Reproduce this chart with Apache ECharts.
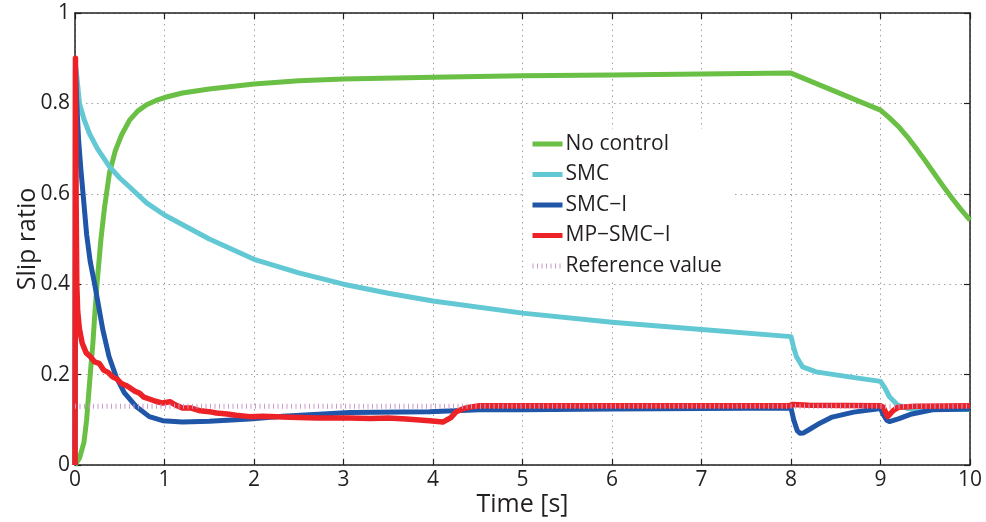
<!DOCTYPE html>
<html>
<head>
<meta charset="utf-8">
<script src="https://cdn.jsdelivr.net/npm/echarts@6/dist/echarts.min.js"></script>
<style>html,body{margin:0;padding:0;background:#fff}#c{width:986px;height:522px}</style>
</head>
<body>
<div id="c"></div>
<script>
var seriesNames = ['No control', 'SMC', 'SMC\u2212I', 'MP\u2212SMC\u2212I', 'Reference value'];
var xTicks = [0,1,2,3,4,5,6,7,8,9,10];
var yTicks = [0,0.2,0.4,0.6,0.8,1];

var tNoControl = [0,0.05,0.1,0.13,0.17,0.2,0.22,0.25,0.29,0.33,0.385,0.45,0.52,0.61,0.7,0.8,0.9,1.0,1.2,1.5,2,2.5,3,4,5,6,7,8,9,9.1,9.2,9.3,9.4,9.5,9.6,9.7,9.8,9.9,10];
var yNoControl = [0,0.015,0.05,0.1,0.2,0.27,0.33,0.41,0.5,0.57,0.646,0.695,0.73,0.763,0.783,0.797,0.806,0.813,0.823,0.832,0.843,0.85,0.854,0.858,0.861,0.863,0.865,0.867,0.785,0.768,0.749,0.726,0.70,0.673,0.645,0.617,0.59,0.565,0.542];

var tSMC = [0,0.01,0.05,0.1,0.16,0.25,0.385,0.5,0.61,0.8,1,1.5,2,2.5,3,3.5,4,5,6,7,8,8.03,8.06,8.13,8.28,8.65,9.0,9.05,9.1,9.19,9.3,9.5,10];
var ySMC = [0,0.88,0.8,0.765,0.734,0.70,0.66,0.635,0.615,0.58,0.553,0.5,0.455,0.425,0.4,0.38,0.363,0.336,0.316,0.3,0.284,0.26,0.24,0.217,0.206,0.195,0.185,0.17,0.151,0.133,0.125,0.123,0.123];

var tSMCI = [0,0.005,0.02,0.04,0.065,0.09,0.13,0.17,0.22,0.31,0.38,0.46,0.55,0.68,0.83,0.98,1.2,1.5,1.95,2.32,3.07,3.96,4.52,5,6,7,8,8.03,8.07,8.1,8.14,8.2,8.3,8.46,8.7,9.0,9.03,9.07,9.1,9.2,9.35,9.58,10];
var ySMCI = [0,0.88,0.8,0.72,0.655,0.6,0.51,0.45,0.40,0.30,0.24,0.195,0.16,0.13,0.107,0.098,0.095,0.097,0.102,0.108,0.116,0.118,0.122,0.122,0.124,0.125,0.126,0.1,0.076,0.07,0.071,0.078,0.09,0.106,0.117,0.125,0.112,0.099,0.096,0.102,0.113,0.122,0.124];

var tMP = [0,0.005,0.012,0.02,0.03,0.05,0.08,0.125,0.17,0.22,0.27,0.32,0.37,0.42,0.47,0.52,0.57,0.62,0.67,0.72,0.77,0.83,0.9,0.98,1.06,1.12,1.2,1.3,1.4,1.5,1.58,1.7,1.8,1.95,2.1,2.32,2.5,2.7,2.9,3.07,3.3,3.5,3.7,3.96,4.11,4.2,4.26,4.33,4.41,4.52,5,6,7,7.98,8.02,8.2,9.0,9.03,9.08,9.14,9.2,9.4,10];
var yMP = [0,0.9,0.6,0.4,0.34,0.3,0.27,0.248,0.24,0.228,0.225,0.21,0.205,0.195,0.19,0.18,0.176,0.17,0.163,0.159,0.15,0.146,0.141,0.137,0.14,0.133,0.126,0.126,0.12,0.118,0.115,0.113,0.11,0.107,0.108,0.106,0.105,0.104,0.104,0.104,0.103,0.104,0.102,0.098,0.095,0.105,0.118,0.124,0.128,0.131,0.131,0.131,0.131,0.131,0.134,0.132,0.131,0.128,0.107,0.12,0.128,0.13,0.131];

var tRef = [0,10];
var yRef = [0.13,0.13];

function pairs(t, y){ return t.map(function(v,i){ return [v, y[i]]; }); }

var FONT = 'Open Sans';
var TXT = '#231f20';

var chart = echarts.init(document.getElementById('c'), null, {renderer:'canvas'});

function lineSeries(name, t, y, color, width, type){
  return {
    name: name, type: 'line', data: pairs(t, y), showSymbol: false, symbol: 'none',
    animation: false, smooth: false,
    lineStyle: { color: color, width: width, type: type || 'solid', cap: 'butt', join: 'round' },
    itemStyle: { color: color }
  };
}

var option = {
  animation: false,
  backgroundColor: '#fff',
  grid: { left: 75, right: 16, top: 13, bottom: 57, containLabel: false, outerBoundsMode: 'none' },
  legend: {
    orient: 'vertical', left: 525, top: 129,
    data: seriesNames,
    backgroundColor: '#fff',
    padding: [4, 10, 4, 5],
    itemWidth: 30, itemHeight: 14, itemGap: 8.5,
    itemStyle: { opacity: 0 },
    lineStyle: { width: 5 },
    textStyle: { fontFamily: FONT, fontSize: 21, color: TXT, lineHeight: 22, padding: [0,0,0,-2] }
  },
  xAxis: [{
    type: 'value', min: 0, max: 10, interval: 1,
    name: 'Time [s]', nameLocation: 'middle', nameGap: 27, nameMoveOverlap: false,
    nameTextStyle: { fontFamily: FONT, fontSize: 25, color: TXT, verticalAlign: 'top' },
    axisLine: { show: true, onZero: false, lineStyle: { color: '#231f20', width: 1.5 } },
    axisTick: { show: true, inside: true, length: 6, lineStyle: { color: '#231f20', width: 1.2 } },
    axisLabel: { fontFamily: FONT, fontSize: 21, color: TXT, margin: 5,
      formatter: function(v){ return xTicks.indexOf(v) >= 0 ? String(v) : ''; } },
    splitLine: { show: true, lineStyle: { color: '#a0a0a0', width: 1, type: [1.5, 4] } }
  }, {
    type: 'value', min: 0, max: 10, interval: 1, position: 'top',
    axisLine: { show: true, onZero: false, lineStyle: { color: '#231f20', width: 1.5 } },
    axisTick: { show: true, inside: true, length: 6, lineStyle: { color: '#231f20', width: 1.2 } },
    axisLabel: { show: false }, splitLine: { show: false }
  }],
  yAxis: [{
    type: 'value', min: 0, max: 1, interval: 0.2,
    name: 'Slip ratio', nameLocation: 'middle', nameGap: 35, nameRotate: 90, nameMoveOverlap: false,
    nameTextStyle: { fontFamily: FONT, fontSize: 25, color: TXT },
    axisLine: { show: true, onZero: false, lineStyle: { color: '#231f20', width: 1.5 } },
    axisTick: { show: true, inside: true, length: 6, lineStyle: { color: '#231f20', width: 1.2 } },
    axisLabel: { fontFamily: FONT, fontSize: 21, color: TXT, margin: 5,
      formatter: function(v){ var r = Math.round(v*10)/10; return String(r); } },
    splitLine: { show: true, lineStyle: { color: '#a0a0a0', width: 1, type: [1.5, 4] } }
  }, {
    type: 'value', min: 0, max: 1, interval: 0.2, position: 'right',
    axisLine: { show: true, onZero: false, lineStyle: { color: '#231f20', width: 1.5 } },
    axisTick: { show: true, inside: true, length: 6, lineStyle: { color: '#231f20', width: 1.2 } },
    axisLabel: { show: false }, splitLine: { show: false }
  }],
  series: [
    lineSeries(seriesNames[0], tNoControl, yNoControl, '#6abf45', 5),
    lineSeries(seriesNames[1], tSMC, ySMC, '#62c8d4', 5),
    lineSeries(seriesNames[2], tSMCI, ySMCI, '#1f56a8', 5),
    lineSeries(seriesNames[3], tMP, yMP, '#ec2227', 5.5),
    lineSeries(seriesNames[4], tRef, yRef, '#c99acb', 5, [1, 3.5])
  ]
};
chart.setOption(option);
</script>
</body>
</html>
